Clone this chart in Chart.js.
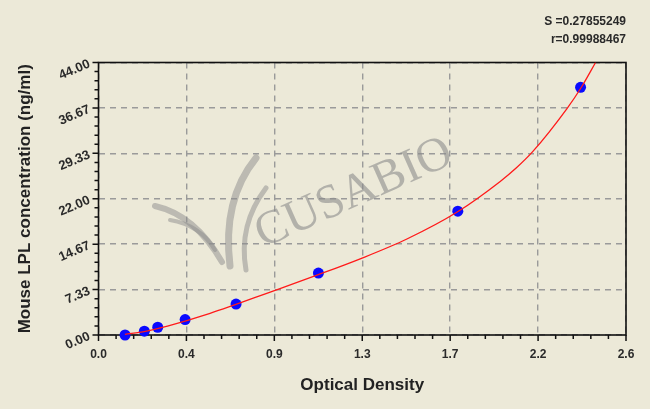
<!DOCTYPE html>
<html>
<head>
<meta charset="utf-8">
<script src="https://cdn.jsdelivr.net/npm/chart.js@4.4.1/dist/chart.umd.min.js"></script>
<style>
  html, body { margin: 0; padding: 0; background: #ECE9D8; }
  #wrap { width: 650px; height: 409px; }
</style>
</head>
<body>
<div id="wrap"><canvas id="curve" width="650" height="409"></canvas></div>
<script>
// standards (OD vs concentration)
const odValues = [0.131, 0.226, 0.292, 0.427, 0.678, 1.084, 1.771, 2.376];
const concValues = [0, 0.625, 1.25, 2.5, 5, 10, 20, 40];

// fitted curve, sampled by eye along the red line
const curveOd = [0.13, 0.23, 0.34, 0.55, 0.86, 1.08, 1.29, 1.52, 1.77, 1.98, 2.06, 2.14, 2.31, 2.38, 2.45];
const curveConc = [0.1, 0.6, 1.45, 3.5, 7.1, 9.7, 12.3, 15.5, 19.9, 24.8, 27.0, 29.6, 36.6, 40.0, 44.0];

const xTickLabels = ['0.0', '0.4', '0.9', '1.3', '1.7', '2.2', '2.6'];
const yTickLabels = ['0.00', '7.33', '14.67', '22.00', '29.33', '36.67', '44.00'];
const fitStats = ['S =0.27855249', 'r=0.99988467'];

const X_MAX = 2.6, Y_MAX = 44;
const xTicks = xTickLabels.map((_, i) => i * X_MAX / (xTickLabels.length - 1));
const yTicks = yTickLabels.map((_, i) => i * Y_MAX / (yTickLabels.length - 1));

// frame, tick marks, rotated y labels, watermark, fit stats
const decor = {
  id: 'decor',
  beforeDatasetsDraw(chart) {
    const { ctx, chartArea: a, scales: { x, y } } = chart;

    // watermark
    ctx.save();
    ctx.beginPath();
    ctx.rect(a.left, a.top, a.right - a.left, a.bottom - a.top);
    ctx.clip();
    ctx.strokeStyle = 'rgba(140,140,140,0.5)';
    ctx.lineCap = 'round';
    ctx.lineWidth = 6;
    ctx.beginPath(); ctx.moveTo(155, 206); ctx.quadraticCurveTo(195, 215, 222, 262); ctx.stroke();
    ctx.lineWidth = 4;
    ctx.beginPath(); ctx.moveTo(170, 220); ctx.quadraticCurveTo(200, 225, 215, 250); ctx.stroke();
    ctx.lineWidth = 7;
    ctx.beginPath(); ctx.moveTo(256, 158); ctx.quadraticCurveTo(222, 200, 230, 266); ctx.stroke();
    ctx.lineWidth = 5;
    ctx.beginPath(); ctx.moveTo(266, 188); ctx.quadraticCurveTo(238, 225, 246, 270); ctx.stroke();
    ctx.translate(263, 248);
    ctx.rotate(-24 * Math.PI / 180);
    ctx.fillStyle = 'rgba(140,140,140,0.6)';
    ctx.font = '48px "Liberation Serif"';
    ctx.textBaseline = 'alphabetic';
    ctx.fillText('CUSABIO', 0, 0);
    ctx.restore();

    // plot frame
    ctx.save();
    ctx.strokeStyle = '#111';
    ctx.lineWidth = 1.6;
    ctx.strokeRect(a.left, a.top, a.right - a.left, a.bottom - a.top);

    // tick marks (major + 4 minor)
    ctx.lineWidth = 1.5;
    ctx.beginPath();
    for (let i = 0; i < xTicks.length; i++) {
      const px = x.getPixelForValue(xTicks[i]);
      ctx.moveTo(px, a.bottom); ctx.lineTo(px, a.bottom + 6);
      if (i < xTicks.length - 1) {
        for (let k = 1; k < 5; k++) {
          const mx = x.getPixelForValue(xTicks[i] + (xTicks[i + 1] - xTicks[i]) * k / 5);
          ctx.moveTo(mx, a.bottom); ctx.lineTo(mx, a.bottom + 4);
        }
      }
    }
    for (let i = 0; i < yTicks.length; i++) {
      const py = y.getPixelForValue(yTicks[i]);
      ctx.moveTo(a.left, py); ctx.lineTo(a.left - 6, py);
      if (i < yTicks.length - 1) {
        for (let k = 1; k < 5; k++) {
          const my = y.getPixelForValue(yTicks[i] + (yTicks[i + 1] - yTicks[i]) * k / 5);
          ctx.moveTo(a.left, my); ctx.lineTo(a.left - 4, my);
        }
      }
    }
    ctx.stroke();

    // slanted y labels
    ctx.fillStyle = '#2a2a2a';
    ctx.font = 'bold 13px "Liberation Sans"';
    ctx.textAlign = 'right';
    ctx.textBaseline = 'middle';
    yTicks.forEach((v, i) => {
      ctx.save();
      ctx.translate(a.left - 9, y.getPixelForValue(v) + 1);
      ctx.rotate(-23 * Math.PI / 180);
      ctx.fillText(yTickLabels[i], 0, 0);
      ctx.restore();
    });

    // fit statistics
    ctx.font = 'bold 12px "Liberation Sans"';
    ctx.fillText(fitStats[0], a.right, 22);
    ctx.fillText(fitStats[1], a.right, 40);
    ctx.restore();
  }
};

new Chart(document.getElementById('curve'), {
  type: 'scatter',
  data: {
    datasets: [
      {
        label: 'fit',
        data: curveOd.map((v, i) => ({ x: v, y: curveConc[i] })),
        showLine: true,
        borderColor: '#ff1a1a',
        borderWidth: 1.3,
        pointRadius: 0,
        cubicInterpolationMode: 'monotone',
        order: 0
      },
      {
        label: 'standards',
        data: odValues.map((v, i) => ({ x: v, y: concValues[i] })),
        backgroundColor: '#0a0aff',
        borderWidth: 0,
        pointRadius: 5.5,
        clip: false,
        order: 1
      }
    ]
  },
  options: {
    responsive: false,
    animation: false,
    devicePixelRatio: 1,
    layout: { padding: { top: 62.5, right: 24, left: 0, bottom: 0 } },
    plugins: { legend: { display: false }, tooltip: { enabled: false } },
    scales: {
      x: {
        type: 'linear',
        min: 0,
        max: X_MAX,
        afterBuildTicks: s => { s.ticks = xTicks.map(v => ({ value: v })); },
        afterFit: s => { s.height = 74; },
        ticks: {
          autoSkip: false,
          maxRotation: 0,
          padding: 12,
          color: '#2a2a2a',
          font: { family: 'Liberation Sans', size: 12, weight: 'bold' },
          callback: (v, i) => xTickLabels[i]
        },
        grid: { color: '#9a9a9a', lineWidth: 1.4, drawTicks: false },
        border: { display: false, dash: [6, 5] },
        title: {
          display: true,
          text: 'Optical Density',
          color: '#222',
          font: { family: 'Liberation Sans', size: 17, weight: 'bold' },
          padding: { top: 0, bottom: 13 }
        }
      },
      y: {
        type: 'linear',
        min: 0,
        max: Y_MAX,
        afterBuildTicks: s => { s.ticks = yTicks.map(v => ({ value: v })); },
        afterFit: s => { s.width = 98.5; },
        ticks: { display: false },
        grid: { color: '#9a9a9a', lineWidth: 1.4, drawTicks: false },
        border: { display: false, dash: [6, 5] },
        title: {
          display: true,
          text: 'Mouse LPL concentration (ng/ml)',
          color: '#222',
          font: { family: 'Liberation Sans', size: 17, weight: 'bold' },
          padding: { top: 15, bottom: 0 }
        }
      }
    }
  },
  plugins: [decor]
});
</script>
</body>
</html>
